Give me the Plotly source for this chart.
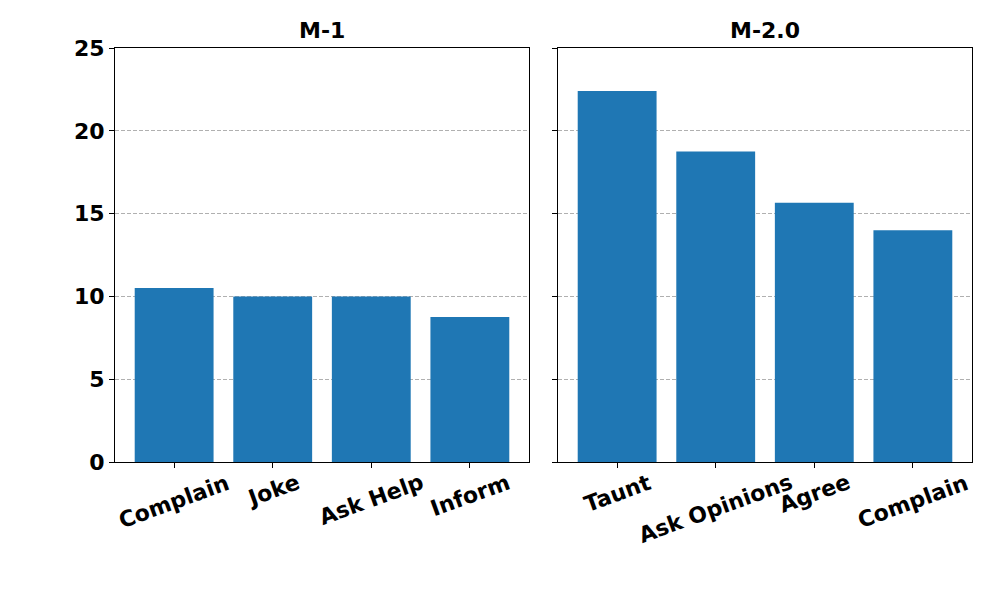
import plotly.graph_objects as go

cats1 = ["Complain", "Joke", "Ask Help", "Inform"]
vals1 = [10.5, 10.0, 10.0, 8.75]
cats2 = ["Taunt", "Ask Opinions", "Agree", "Complain"]
vals2 = [22.4, 18.75, 15.65, 14.0]
titles = ["M-1", "M-2.0"]
yticks = [0, 5, 10, 15, 20, 25]

FONT = "DejaVu Sans"
BLUE = "#1f77b4"
FS = 22

fig = go.Figure()
fig.add_trace(go.Bar(x=list(range(len(cats1))), y=vals1, width=0.8, marker=dict(color=BLUE, line=dict(width=0)),
                     xaxis="x", yaxis="y", showlegend=False))
fig.add_trace(go.Bar(x=list(range(len(cats2))), y=vals2, width=0.8, marker=dict(color=BLUE, line=dict(width=0)),
                     xaxis="x2", yaxis="y2", showlegend=False))

W, H = 992, 592
L, R, T = 107, 28, 40
B = H - T - 414
pw = W - L - R
d1 = [0, 414 / pw]
d2 = [(558 - 115) / pw, 1]

common_x = dict(showgrid=False, zeroline=False, showline=True, linecolor="black", linewidth=1, mirror=True,
                ticks="outside", ticklen=5, tickcolor="black", showticklabels=False, automargin=False,
                range=[-0.6, 3.6], tickmode="array", tickvals=[0, 1, 2, 3])
common_y = dict(range=[0, 25], tickmode="array", tickvals=yticks, showgrid=True, gridcolor="#b0b0b0",
                griddash="4px,2px", gridwidth=0.8, automargin=False,
                zeroline=False, showline=True, linecolor="black", linewidth=1, mirror=True,
                ticks="outside", ticklen=5, tickcolor="black",
                tickfont=dict(family=FONT, size=FS, color="black", weight="bold"))

annots = []
for i, t in enumerate(titles):
    dom = d1 if i == 0 else d2
    annots.append(dict(text=t, x=(dom[0] + dom[1]) / 2, y=1, xref="paper", yref="paper",
                       xanchor="center", yanchor="bottom",
                       yshift=3, showarrow=False, font=dict(family=FONT, size=FS, color="black", weight="bold")))
for xr, cats in (("x", cats1), ("x2", cats2)):
    for i, c in enumerate(cats):
        annots.append(dict(text=c, x=i, y=0, xref=xr, yref="paper", xanchor="center", yanchor="top",
                           yshift=-5, textangle=-20, showarrow=False,
                           font=dict(family=FONT, size=FS, color="black", weight="bold")))

fig.update_layout(
    width=W, height=H, plot_bgcolor="white", paper_bgcolor="white",
    margin=dict(l=L, r=R, t=T, b=B, autoexpand=False), bargap=0.2,
    xaxis=dict(domain=d1, anchor="y", **common_x),
    xaxis2=dict(domain=d2, anchor="y2", **common_x),
    yaxis=dict(domain=[0, 1], anchor="x", **common_y),
    yaxis2=dict(domain=[0, 1], anchor="x2", showticklabels=False, matches="y", **common_y),
    annotations=annots,
)
fig.write_html("out.html")
